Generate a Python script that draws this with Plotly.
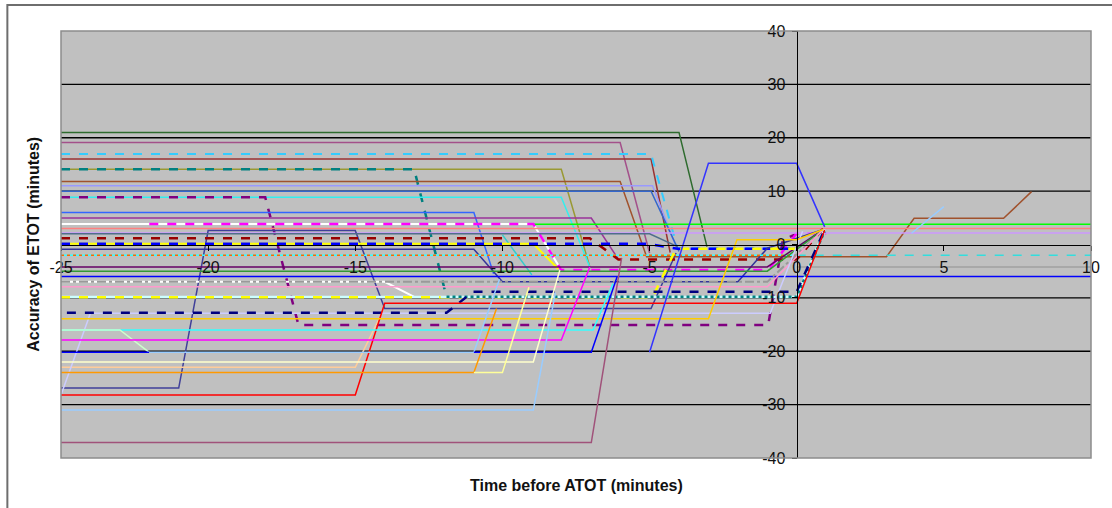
import plotly.graph_objects as go

# ---------------- data (minutes) ----------------
x_ticks = [-25, -20, -15, -10, -5, 0, 5, 10]
y_ticks = [-40, -30, -20, -10, 0, 10, 20, 30, 40]
grid_values = [-30, -20, -10, 10, 20, 30]

dkgreen_x = [-25, -4.0, -3.05]
dkgreen_y = [21, 21, -0.4]
mauve_hi_x = [-25, -6.0, -5.0]
mauve_hi_y = [19.1, 19.1, -1.6]
ltblue_dash_x = [-25, -4.95, -4.05, 0, 0.95]
ltblue_dash_y = [16.95, 16.95, -0.7, -0.7, 2.9]
dkred_x = [-25, -4.95, -4.3]
dkred_y = [16.0, 16.0, -1.5]
olive_x = [-25, -8.0, -7.03]
olive_y = [14.1, 14.1, -4.2]
teal_dash_x = [-25, -13.0, -11.9]
teal_dash_y = [14.1, 14.1, -9.8]
sienna_x = [-25, -6.0, -5.1, 3.05, 3.99, 7.03, 7.98]
sienna_y = [11.8, 11.8, -2.3, -2.3, 4.9, 4.9, 9.9]
periwinkle_x = [-25, -4.9, -4.1]
periwinkle_y = [11.0, 11.0, -0.4]
steel_x = [-25, -4.95, -4.0]
steel_y = [10.0, 10.0, -1.3]
cyan_hi_x = [-25, -8.0, -7.03]
cyan_hi_y = [8.84, 8.84, -4.2]
purple_dash_x = [-25, -18.06, -16.93, -0.97, -0.47, 0.3]
purple_dash_y = [8.84, 8.84, -15.1, -15.1, 0.85, 2.8]
blue6_x = [-25, -10.97, -10.3]
blue6_y = [6.0, 6.0, -5.5]
purple5_x = [-25, -6.98, -6.08]
purple5_y = [4.95, 4.95, -2.6]
white4_x = [-25, -8.95, -8.0]
white4_y = [3.85, 3.85, -4.8]
green_x = [-8.95, 10]
green_y = [3.8, 3.8]
magenta_dash_x = [-22, -8.95, -8.0, -0.97, 0, 1.0]
magenta_dash_y = [3.85, 3.85, -4.8, -4.8, 2.1, 2.1]
salmon_x = [-25, 10]
salmon_y = [3.0, 3.0]
lilac_x = [-25, 10]
lilac_y = [2.15, 2.15]
dkslate_a_x = [-25, -21.0, -20.0, -15.0, -14.0, -4.95, -4.1]
dkslate_a_y = [-26.9, -26.9, 2.6, 2.6, -12.0, -12.0, -1.6]
slate_x = [-25, -5.0, -4.05]
slate_y = [2.0, 2.0, -0.4]
cyan_mid_x = [-10.0, -9.0]
cyan_mid_y = [1.8, -5.7]
dkred_dash_x = [-25, -7.03, -6.06, 0, 0.95]
dkred_dash_y = [1.15, 1.15, -2.8, -2.8, 3.3]
yellow_a_x = [-25, -8.95, -8.1]
yellow_a_y = [0.15, 0.15, -4.6]
blue_dash_x = [-25, -5.1, -4.05, 0]
blue_dash_y = [0.15, 0.15, -0.8, -0.8]
dkslate_b_x = [-25, -10.97, -10.0, -2.0, -1.0, 0.9]
dkslate_b_y = [-0.9, -0.9, -7.0, -7.0, -0.7, 2.8]
cyan_two_x = [-25, 0]
cyan_two_y = [-2.0, -2.0]
cyan_two_r_x = [0, 10]
cyan_two_r_y = [-2.0, -2.0]
purple_dk_x = [-25, -1.0, 0.9]
purple_dk_y = [-4.2, -4.2, 2.8]
gray_r_x = [0, 10]
gray_r_y = [-4.2, -4.2]
green_dk_x = [-25, -1.0, 0.9]
green_dk_y = [-5.0, -5.0, 2.8]
blue_const_x = [-25, 10]
blue_const_y = [-6.0, -6.0]
white7_x = [-25, -14.0, -13.0]
white7_y = [-7.0, -7.0, -9.8]
gray_dd_x = [-25, -1.0, 0.9]
gray_dd_y = [-7.0, -7.0, 2.8]
pink_x = [-25, -1.0, 0.9]
pink_y = [-7.9, -7.9, 2.8]
yellow_dash_r_x = [-12.1, -4.9, -4.1, 0]
yellow_dash_r_y = [-9.9, -9.9, -0.8, -0.8]
ltcyan10_x = [-25, 0, 0.95]
ltcyan10_y = [-9.85, -9.85, 2.8]
yellow_dash_l_x = [-25, -12.1]
yellow_dash_l_y = [-9.9, -9.9]
teal_dot_x = [-11.9, 0, 0.95]
teal_dot_y = [-9.8, -9.8, 2.5]
peach_x = [-25, -15.0, -14.1]
peach_y = [-23.0, -23.0, -12.9]
lavender_x = [-25, -24.0, -0.9, 0.2]
lavender_y = [-28.2, -12.9, -12.9, 2.5]
navy_dash_x = [-24.8, -11.9, -11.0, 0, 0.95]
navy_dash_y = [-12.8, -12.8, -8.85, -8.85, 2.8]
red_x = [-25, -15.0, -14.0, 0, 0.95]
red_y = [-28.2, -28.2, -11.0, -11.0, 2.7]
gold_x = [-25, -3.0, -2.03, 0, 0.9]
gold_y = [-13.9, -13.9, 0.9, 0.9, 2.8]
cyan_lo_x = [-25, -6.92, -6.24]
cyan_lo_y = [-16.0, -16.0, -7.3]
ltgreen_x = [-25, -23.0, -22.0]
ltgreen_y = [-16.0, -16.0, -20.2]
magenta_x = [-25, -8.0, -7.03]
magenta_y = [-17.9, -17.9, -4.2]
blue_short_x = [-25, -22.0]
blue_short_y = [-20.2, -20.2]
ltblue20_x = [-22.0, -10.97, -10.1]
ltblue20_y = [-20.2, -20.2, -6.5]
blue20_x = [-10.97, -6.98, -6.1]
blue20_y = [-20.2, -20.2, -6.0]
cream_x = [-25, -8.95, -8.05]
cream_y = [-22.0, -22.0, -4.8]
orange_x = [-25, -10.97, -10.2]
orange_y = [-24.0, -24.0, -12.0]
paleyellow_x = [-10.97, -10.0, -9.1]
paleyellow_y = [-24.0, -24.0, -8.0]
ltblue30_x = [-25, -8.95, -8.2]
ltblue30_y = [-31.0, -31.0, -9.0]
mauve_lo_x = [-25, -6.98, -5.95]
mauve_lo_y = [-37.1, -37.1, -2.5]
bluepeak_x = [-5.0, -3.0, 0, 0.95]
bluepeak_y = [-20.2, 15.2, 15.2, 3.3]
ltblue_r_x = [3.9, 5.0]
ltblue_r_y = [2.1, 7.1]

# ---------------- styles (drawing order) ----------------
series = [
    (dkgreen_x, dkgreen_y, "#2E6B2E", 1.5, "solid"),
    (mauve_hi_x, mauve_hi_y, "#A3508A", 1.5, "solid"),
    (dkred_x, dkred_y, "#993333", 1.5, "solid"),
    (ltblue_dash_x, ltblue_dash_y, "#33CCFF", 2, "dash"),
    (olive_x, olive_y, "#999933", 1.5, "solid"),
    (teal_dash_x, teal_dash_y, "#008080", 2.5, "dash"),
    (sienna_x, sienna_y, "#A0522D", 1.5, "solid"),
    (periwinkle_x, periwinkle_y, "#9999FF", 1.5, "solid"),
    (steel_x, steel_y, "#3366CC", 1.5, "solid"),
    (cyan_hi_x, cyan_hi_y, "#33EEEE", 1.5, "solid"),
    (purple_dash_x, purple_dash_y, "#800080", 2.5, "dash"),
    (blue6_x, blue6_y, "#3366FF", 1.5, "solid"),
    (purple5_x, purple5_y, "#993399", 1.5, "solid"),
    (white4_x, white4_y, "#FFFFFF", 2, "solid"),
    (green_x, green_y, "#00FF00", 1.5, "solid"),
    (magenta_dash_x, magenta_dash_y, "#FF00FF", 2.5, "dash"),
    (salmon_x, salmon_y, "#FF8080", 1.5, "solid"),
    (lilac_x, lilac_y, "#CC99FF", 1.5, "solid"),
    (dkslate_a_x, dkslate_a_y, "#3F3F99", 1.5, "solid"),
    (slate_x, slate_y, "#4F6D8C", 1.5, "solid"),
    (cyan_mid_x, cyan_mid_y, "#33CCCC", 1.5, "solid"),
    (yellow_a_x, yellow_a_y, "#FFFF00", 2, "solid"),
    (dkred_dash_x, dkred_dash_y, "#990000", 2.5, "dash"),
    (blue_dash_x, blue_dash_y, "#0000FF", 2.5, "dash"),
    (dkslate_b_x, dkslate_b_y, "#333399", 1.5, "solid"),
    (cyan_two_x, cyan_two_y, "#33FFFF", 1.5, "solid"),
    (cyan_two_x, cyan_two_y, "#FF6600", 1.5, "dot"),
    (cyan_two_r_x, cyan_two_r_y, "#33DDDD", 1.5, "dash"),
    (purple_dk_x, purple_dk_y, "#660066", 1.5, "solid"),
    (gray_r_x, gray_r_y, "#A0A0A0", 1.5, "solid"),
    (green_dk_x, green_dk_y, "#339933", 1.5, "solid"),
    (blue_const_x, blue_const_y, "#0000FF", 1.5, "solid"),
    (white7_x, white7_y, "#FFFFFF", 2, "solid"),
    (gray_dd_x, gray_dd_y, "#999999", 2, "dashdot"),
    (pink_x, pink_y, "#FF99CC", 1.5, "solid"),
    (yellow_dash_r_x, yellow_dash_r_y, "#FFFF00", 2.5, "dash"),
    (ltcyan10_x, ltcyan10_y, "#CCFFFF", 2.5, "solid"),
    (yellow_dash_l_x, yellow_dash_l_y, "#FFFF00", 2.5, "dash"),
    (teal_dot_x, teal_dot_y, "#008080", 2.5, "dot"),
    (peach_x, peach_y, "#FFCC99", 1.5, "solid"),
    (lavender_x, lavender_y, "#CCCCFF", 1.5, "solid"),
    (navy_dash_x, navy_dash_y, "#000080", 2.5, "dash"),
    (red_x, red_y, "#FF0000", 1.5, "solid"),
    (gold_x, gold_y, "#FFCC00", 1.5, "solid"),
    (cyan_lo_x, cyan_lo_y, "#33FFFF", 1.5, "solid"),
    (ltgreen_x, ltgreen_y, "#CCFFCC", 1.5, "solid"),
    (magenta_x, magenta_y, "#FF00FF", 1.5, "solid"),
    (blue_short_x, blue_short_y, "#0000FF", 1.5, "solid"),
    (ltblue20_x, ltblue20_y, "#99CCFF", 1.5, "solid"),
    (blue20_x, blue20_y, "#0000FF", 1.5, "solid"),
    (cream_x, cream_y, "#FFFFCC", 1.5, "solid"),
    (orange_x, orange_y, "#FF9900", 1.5, "solid"),
    (paleyellow_x, paleyellow_y, "#FFFF99", 1.5, "solid"),
    (ltblue30_x, ltblue30_y, "#99CCFF", 1.5, "solid"),
    (mauve_lo_x, mauve_lo_y, "#A0527A", 1.5, "solid"),
    (bluepeak_x, bluepeak_y, "#3333FF", 1.5, "solid"),
    (ltblue_r_x, ltblue_r_y, "#99CCFF", 1.5, "solid"),
]

fig = go.Figure()
for xs, ys, color, width, dash in series:
    fig.add_trace(go.Scatter(x=xs, y=ys, mode="lines",
                             line=dict(color=color, width=width, dash=dash),
                             hoverinfo="skip", showlegend=False))

W, H = 1112, 508
L, R, T, B = 61, 14, 31, 50
pw, ph = W - L - R, H - T - B

shapes = []
for g in grid_values:
    shapes.append(dict(type="line", xref="paper", yref="y", x0=0, x1=1, y0=g, y1=g,
                       line=dict(color="black", width=1.3), layer="below"))
# plot-area border
shapes.append(dict(type="rect", xref="paper", yref="paper", x0=0, x1=1, y0=0, y1=1,
                   line=dict(color="#8C8C8C", width=1.5), layer="above"))
# outer chart frame
shapes.append(dict(type="rect", xref="paper", yref="paper",
                   x0=(7 - L) / pw, x1=1.2, y0=-0.3, y1=1 + (T - 5) / ph,
                   line=dict(color="#6E6E6E", width=2), layer="above"))

font_family = "Liberation Sans, Arial, sans-serif"

fig.update_layout(
    width=W, height=H,
    margin=dict(l=L, r=R, t=T, b=B, pad=0),
    paper_bgcolor="white", plot_bgcolor="#C0C0C0",
    font=dict(family=font_family, size=16, color="#111111"),
    showlegend=False,
    shapes=shapes,
    xaxis=dict(range=[-25, 10], tickvals=x_ticks, ticktext=[str(v) for v in x_ticks],
               anchor="free", position=0.5, showgrid=False, zeroline=False,
               showline=True, linecolor="black", linewidth=1.3,
               ticks="outside", ticklen=5, tickcolor="black", tickwidth=1.3,
               ticklabelstandoff=3, fixedrange=True),
    yaxis=dict(range=[-40, 40], tickvals=y_ticks, ticktext=[str(v) for v in y_ticks],
               anchor="free", position=25 / 35, showgrid=False, zeroline=False,
               showline=True, linecolor="black", linewidth=1.3,
               ticks="outside", ticklen=5, tickcolor="black", tickwidth=1.3,
               ticklabelstandoff=3, fixedrange=True),
    annotations=[
        dict(text="<b>Time before ATOT (minutes)</b>", xref="paper", yref="paper",
             x=0.5, y=(T + ph - 485) / ph, xanchor="center", yanchor="middle",
             showarrow=False, font=dict(size=16, family=font_family, color="#111111")),
        dict(text="<b>Accuracy of ETOT (minutes)</b>", xref="paper", yref="paper",
             x=(33 - L) / pw, y=0.5, xanchor="center", yanchor="middle", textangle=-90,
             showarrow=False, font=dict(size=16, family=font_family, color="#111111")),
    ],
)

fig.write_html("out.html", config={"displayModeBar": False},
               post_script="document.body.style.margin='0';")
